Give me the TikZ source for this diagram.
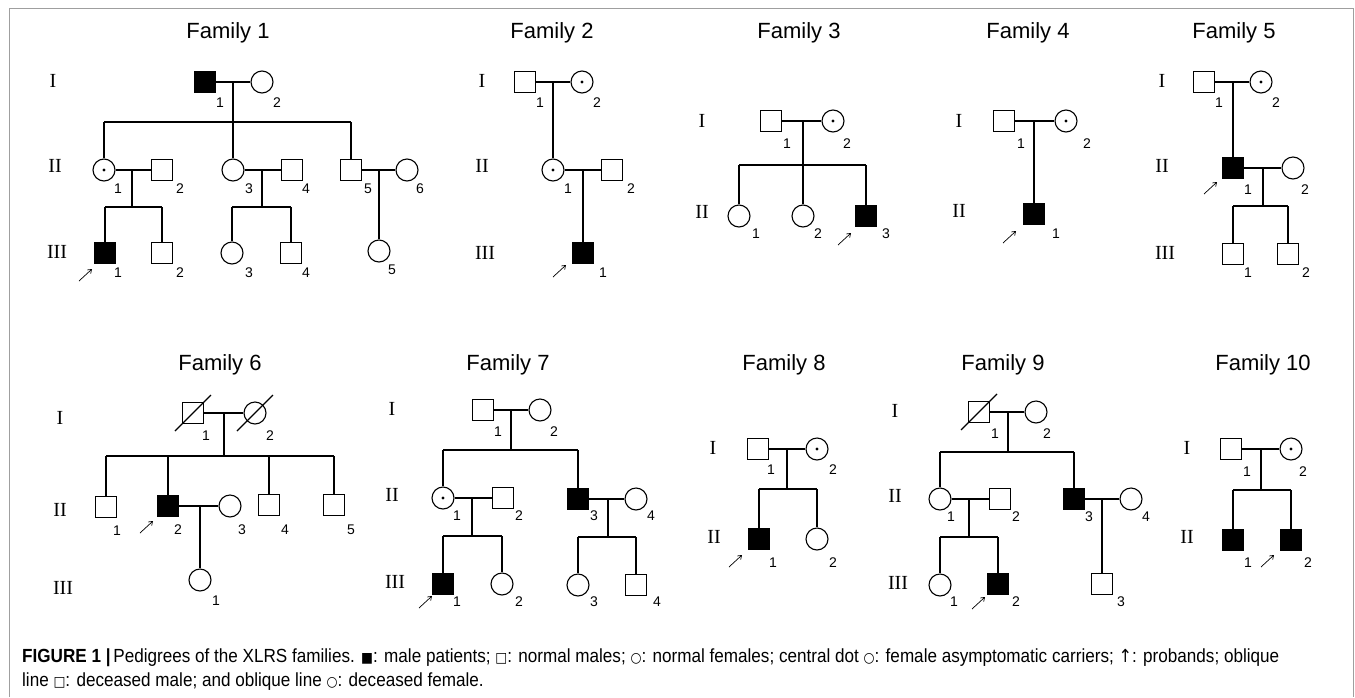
\documentclass[tikz,border=0pt]{standalone}
\usepackage{fontspec}
\usepackage{graphicx}
\setmainfont{Liberation Sans}
\newfontfamily\romfont{Liberation Serif}
\newfontfamily\symfont{DejaVu Sans}
\usetikzlibrary{arrows.meta,calc}
\newsavebox\capboxA
\newsavebox\capboxB
\newcommand\parrow[3]{\draw[prob] ($(#1.center)+(#2,#3)$) -- ++(13,-12);}
\newcommand\deadmark[1]{\draw[ln] ($(#1.center)+(-18,18)$) -- ++(36,-36);}
\newcommand\sy[1]{{\symfont\fontsize{14}{14}\selectfont #1}}
\newcommand\syarr[1]{{\symfont\fontsize{18}{18}\selectfont #1}}
\tikzset{
  ln/.style={line width=1.1pt},
  symb/.style={draw, line width=1.1pt, inner sep=0pt},
  sq/.style={symb, rectangle, minimum size=21pt},
  fsq/.style={sq, fill=black},
  ci/.style={symb, circle, minimum size=22pt},
  cd/.style={ci, path picture={\fill (path picture bounding box.center) circle (1.6pt);}},
  num/.style={inner sep=0pt, font=\fontsize{14}{14}\selectfont},
  gen/.style={inner sep=0pt, font=\romfont\fontsize{20}{20}\selectfont},
  ttl/.style={inner sep=0pt, font=\fontsize{22}{22}\selectfont},
  prob/.style={line width=0.7pt, -{Straight Barb[length=3.5pt,width=5pt]}},
}
\begin{document}
\sbox\capboxA{\fontsize{19}{19}\selectfont\textbf{FIGURE 1} \textbf{|}\,Pedigrees of the XLRS families. \sy{■}: male patients; \sy{□}: normal males; \sy{○}: normal females; central dot \sy{○}: female asymptomatic carriers; \syarr{↑}: probands; oblique}%
\sbox\capboxB{\fontsize{19}{19}\selectfont line \sy{□}: deceased male; and oblique line \sy{○}: deceased female.}%
\newdimen\capwd
\capwd=\wd\capboxA
\pgfmathsetmacro\capscale{1257/\the\capwd}%
\begin{tikzpicture}[x=1pt,y=-1pt]
\useasboundingbox (0,0) rectangle (1355,697);
\fill[white] (0,0) rectangle (1355,697);
\draw[gray!75, line width=1pt] (9,697) -- (9,8) -- (1353,8) -- (1353,697);

% ---------- Family 1 ----------
\node[ttl] (t1) at (228,33) {Family 1};
\node[gen] (g1a) at (53,81) {I};
\node[gen] (g1b) at (55,166) {II};
\node[gen] (g1c) at (57,252) {III};
\node[fsq] (f1a) at (205,82) {};
\node[ci] (f1b) at (262,82) {};
\node[num] (l1a) at (220,103) {1};
\node[num] (l1b) at (277,103) {2};
\coordinate (f1m) at (233,82);
\coordinate (f1s) at (233,122);
\coordinate (f1sL) at (104,122);
\coordinate (f1sR) at (351,122);
\draw[ln] (f1a) -- (f1b);
\draw[ln] (f1sL) -- (f1sR);
\node[cd] (f1c) at (104,170) {};
\node[sq] (f1d) at (162,170) {};
\node[ci] (f1e) at (233,170) {};
\node[sq] (f1f) at (292,170) {};
\node[sq] (f1g) at (351,170) {};
\node[ci] (f1h) at (407,170) {};
\draw[ln] (f1m) -- (f1e);
\draw[ln] (f1sL) -- (f1c);
\draw[ln] (f1sR) -- (f1g);
\node[num] (l1c) at (118,189) {1};
\node[num] (l1d) at (180,189) {2};
\node[num] (l1e) at (249,189) {3};
\node[num] (l1f) at (306,189) {4};
\node[num] (l1g) at (368,189) {5};
\node[num] (l1h) at (420,189) {6};
\draw[ln] (f1c) -- (f1d);
\draw[ln] (f1e) -- (f1f);
\draw[ln] (f1g) -- (f1h);
\coordinate (f1m2) at (132,170);
\coordinate (f1s2) at (132,207);
\coordinate (f1s2L) at (105,207);
\coordinate (f1s2R) at (162,207);
\coordinate (f1m3) at (262,170);
\coordinate (f1s3) at (262,207);
\coordinate (f1s3L) at (232,207);
\coordinate (f1s3R) at (291,207);
\coordinate (f1m4) at (379,170);
\draw[ln] (f1m2) -- (f1s2);
\draw[ln] (f1s2L) -- (f1s2R);
\draw[ln] (f1m3) -- (f1s3);
\draw[ln] (f1s3L) -- (f1s3R);
\node[fsq] (f1i) at (105,253) {};
\node[sq] (f1j) at (162,253) {};
\node[ci] (f1k) at (232,253) {};
\node[sq] (f1l) at (291,253) {};
\node[ci] (f1n) at (379,251) {};
\draw[ln] (f1s2L) -- (f1i);
\draw[ln] (f1s2R) -- (f1j);
\draw[ln] (f1s3L) -- (f1k);
\draw[ln] (f1s3R) -- (f1l);
\draw[ln] (f1m4) -- (f1n);
\node[num] (l1i) at (118,273) {1};
\node[num] (l1j) at (180,273) {2};
\node[num] (l1k) at (249,273) {3};
\node[num] (l1l) at (306,273) {4};
\node[num] (l1n) at (392,270) {5};
\parrow{f1i}{-26}{28}

% ---------- Family 2 ----------
\node[ttl] (t2) at (552,33) {Family 2};
\node[gen] (g2a) at (482,81) {I};
\node[gen] (g2b) at (482,166) {II};
\node[gen] (g2c) at (485,253) {III};
\node[sq] (f2a) at (525,82) {};
\node[cd] (f2b) at (582,82) {};
\node[num] (l2a) at (540,103) {1};
\node[num] (l2b) at (597,103) {2};
\draw[ln] (f2a) -- (f2b);
\coordinate (f2m) at (553,82);
\node[cd] (f2c) at (553,170) {};
\node[sq] (f2d) at (612,170) {};
\draw[ln] (f2m) -- (f2c);
\draw[ln] (f2c) -- (f2d);
\node[num] (l2c) at (568,189) {1};
\node[num] (l2d) at (631,189) {2};
\coordinate (f2m2) at (583,170);
\node[fsq] (f2e) at (583,253) {};
\draw[ln] (f2m2) -- (f2e);
\node[num] (l2e) at (603,273) {1};
\parrow{f2e}{-30}{24}

% ---------- Family 3 ----------
\node[ttl] (t3) at (799,33) {Family 3};
\node[gen] (g3a) at (702,121) {I};
\node[gen] (g3b) at (702,212) {II};
\node[sq] (f3a) at (771,121) {};
\node[cd] (f3b) at (833,121) {};
\node[num] (l3a) at (787,144) {1};
\node[num] (l3b) at (847,144) {2};
\draw[ln] (f3a) -- (f3b);
\coordinate (f3m) at (803,121);
\coordinate (f3sL) at (739,165);
\coordinate (f3sR) at (866,165);
\draw[ln] (f3sL) -- (f3sR);
\node[ci] (f3c) at (739,216) {};
\node[ci] (f3d) at (803,216) {};
\node[fsq] (f3e) at (866,216) {};
\draw[ln] (f3m) -- (f3d);
\draw[ln] (f3sL) -- (f3c);
\draw[ln] (f3sR) -- (f3e);
\node[num] (l3c) at (756,234) {1};
\node[num] (l3d) at (818,234) {2};
\node[num] (l3e) at (886,234) {3};
\parrow{f3e}{-28}{29}

% ---------- Family 4 ----------
\node[ttl] (t4) at (1028,33) {Family 4};
\node[gen] (g4a) at (959,121) {I};
\node[gen] (g4b) at (959,211) {II};
\node[sq] (f4a) at (1004,121) {};
\node[cd] (f4b) at (1066,121) {};
\node[num] (l4a) at (1021,144) {1};
\node[num] (l4b) at (1087,144) {2};
\draw[ln] (f4a) -- (f4b);
\coordinate (f4m) at (1034,121);
\node[fsq] (f4c) at (1034,214) {};
\draw[ln] (f4m) -- (f4c);
\node[num] (l4c) at (1056,234) {1};
\parrow{f4c}{-31}{29}

% ---------- Family 5 ----------
\node[ttl] (t5) at (1234,33) {Family 5};
\node[gen] (g5a) at (1162,81) {I};
\node[gen] (g5b) at (1162,166) {II};
\node[gen] (g5c) at (1165,253) {III};
\node[sq] (f5a) at (1204,82) {};
\node[cd] (f5b) at (1261,82) {};
\node[num] (l5a) at (1219,103) {1};
\node[num] (l5b) at (1276,103) {2};
\draw[ln] (f5a) -- (f5b);
\coordinate (f5m) at (1233,82);
\node[fsq] (f5c) at (1233,168) {};
\node[ci] (f5d) at (1293,168) {};
\draw[ln] (f5m) -- (f5c);
\draw[ln] (f5c) -- (f5d);
\node[num] (l5c) at (1248,190) {1};
\node[num] (l5d) at (1305,190) {2};
\coordinate (f5m2) at (1263,168);
\coordinate (f5s2) at (1263,206);
\coordinate (f5sL) at (1233,206);
\coordinate (f5sR) at (1288,206);
\draw[ln] (f5m2) -- (f5s2);
\draw[ln] (f5sL) -- (f5sR);
\node[sq] (f5e) at (1233,254) {};
\node[sq] (f5f) at (1288,254) {};
\draw[ln] (f5sL) -- (f5e);
\draw[ln] (f5sR) -- (f5f);
\node[num] (l5e) at (1248,273) {1};
\node[num] (l5f) at (1306,273) {2};
\parrow{f5c}{-29}{26}

% ---------- Family 6 ----------
\node[ttl] (t6) at (220,365) {Family 6};
\node[gen] (g6a) at (60,418) {I};
\node[gen] (g6b) at (60,510) {II};
\node[gen] (g6c) at (63,588) {III};
\node[sq] (f6a) at (193,413) {};
\node[ci] (f6b) at (255,413) {};
\deadmark{f6a}
\deadmark{f6b}
\node[num] (l6a) at (206,436) {1};
\node[num] (l6b) at (270,436) {2};
\draw[ln] (f6a) -- (f6b);
\coordinate (f6m) at (224,413);
\coordinate (f6s) at (224,456);
\coordinate (f6s1) at (106,456);
\coordinate (f6s2) at (168,456);
\coordinate (f6s4) at (269,456);
\coordinate (f6s5) at (334,456);
\draw[ln] (f6m) -- (f6s);
\draw[ln] (f6s1) -- (f6s5);
\node[sq] (f6c) at (106,507) {};
\node[fsq] (f6d) at (168,506) {};
\node[ci] (f6e) at (230,506) {};
\node[sq] (f6f) at (269,505) {};
\node[sq] (f6g) at (334,505) {};
\draw[ln] (f6s1) -- (f6c);
\draw[ln] (f6s2) -- (f6d);
\draw[ln] (f6s4) -- (f6f);
\draw[ln] (f6s5) -- (f6g);
\draw[ln] (f6d) -- (f6e);
\node[num] (l6c) at (117,531) {1};
\node[num] (l6d) at (178,530) {2};
\node[num] (l6e) at (242,530) {3};
\node[num] (l6f) at (285,530) {4};
\node[num] (l6g) at (351,530) {5};
\coordinate (f6m2) at (200,506);
\node[ci] (f6h) at (200,580) {};
\draw[ln] (f6m2) -- (f6h);
\node[num] (l6h) at (216,601) {1};
\parrow{f6d}{-28}{27}

% ---------- Family 7 ----------
\node[ttl] (t7) at (508,365) {Family 7};
\node[gen] (g7a) at (392,409) {I};
\node[gen] (g7b) at (392,495) {II};
\node[gen] (g7c) at (395,582) {III};
\node[sq] (f7a) at (483,410) {};
\node[ci] (f7b) at (540,410) {};
\node[num] (l7a) at (498,432) {1};
\node[num] (l7b) at (554,432) {2};
\draw[ln] (f7a) -- (f7b);
\coordinate (f7m) at (511,410);
\coordinate (f7s) at (511,450);
\coordinate (f7sL) at (443,450);
\coordinate (f7sR) at (578,450);
\draw[ln] (f7m) -- (f7s);
\draw[ln] (f7sL) -- (f7sR);
\node[cd] (f7c) at (443,498) {};
\node[sq] (f7d) at (503,498) {};
\node[fsq] (f7e) at (578,499) {};
\node[ci] (f7f) at (636,499) {};
\draw[ln] (f7sL) -- (f7c);
\draw[ln] (f7sR) -- (f7e);
\draw[ln] (f7c) -- (f7d);
\draw[ln] (f7e) -- (f7f);
\node[num] (l7c) at (457,516) {1};
\node[num] (l7d) at (519,516) {2};
\node[num] (l7e) at (594,516) {3};
\node[num] (l7f) at (651,516) {4};
\coordinate (f7m2) at (472,498);
\coordinate (f7s2) at (472,536);
\coordinate (f7s2L) at (443,536);
\coordinate (f7s2R) at (502,536);
\coordinate (f7m3) at (608,499);
\coordinate (f7s3) at (608,537);
\coordinate (f7s3L) at (578,537);
\coordinate (f7s3R) at (636,537);
\draw[ln] (f7m2) -- (f7s2);
\draw[ln] (f7s2L) -- (f7s2R);
\draw[ln] (f7m3) -- (f7s3);
\draw[ln] (f7s3L) -- (f7s3R);
\node[fsq] (f7g) at (443,584) {};
\node[ci] (f7h) at (502,584) {};
\node[ci] (f7i) at (578,585) {};
\node[sq] (f7j) at (636,585) {};
\draw[ln] (f7s2L) -- (f7g);
\draw[ln] (f7s2R) -- (f7h);
\draw[ln] (f7s3L) -- (f7i);
\draw[ln] (f7s3R) -- (f7j);
\node[num] (l7g) at (457,602) {1};
\node[num] (l7h) at (519,602) {2};
\node[num] (l7i) at (594,602) {3};
\node[num] (l7j) at (657,602) {4};
\parrow{f7g}{-24}{24}

% ---------- Family 8 ----------
\node[ttl] (t8) at (784,365) {Family 8};
\node[gen] (g8a) at (713,448) {I};
\node[gen] (g8b) at (714,537) {II};
\node[sq] (f8a) at (758,449) {};
\node[cd] (f8b) at (817,449) {};
\node[num] (l8a) at (771,470) {1};
\node[num] (l8b) at (833,470) {2};
\draw[ln] (f8a) -- (f8b);
\coordinate (f8m) at (787,449);
\coordinate (f8s) at (787,489);
\coordinate (f8sL) at (759,489);
\coordinate (f8sR) at (817,489);
\draw[ln] (f8m) -- (f8s);
\draw[ln] (f8sL) -- (f8sR);
\node[fsq] (f8c) at (759,539) {};
\node[ci] (f8d) at (817,539) {};
\draw[ln] (f8sL) -- (f8c);
\draw[ln] (f8sR) -- (f8d);
\node[num] (l8c) at (773,563) {1};
\node[num] (l8d) at (833,563) {2};
\parrow{f8c}{-30}{28}

% ---------- Family 9 ----------
\node[ttl] (t9) at (1003,365) {Family 9};
\node[gen] (g9a) at (895,411) {I};
\node[gen] (g9b) at (895,496) {II};
\node[gen] (g9c) at (898,583) {III};
\node[sq] (f9a) at (979,412) {};
\node[ci] (f9b) at (1036,412) {};
\deadmark{f9a}
\node[num] (l9a) at (995,434) {1};
\node[num] (l9b) at (1047,434) {2};
\draw[ln] (f9a) -- (f9b);
\coordinate (f9m) at (1008,412);
\coordinate (f9s) at (1008,452);
\coordinate (f9sL) at (940,452);
\coordinate (f9sR) at (1074,452);
\draw[ln] (f9m) -- (f9s);
\draw[ln] (f9sL) -- (f9sR);
\node[ci] (f9c) at (940,499) {};
\node[sq] (f9d) at (1000,499) {};
\node[fsq] (f9e) at (1074,499) {};
\node[ci] (f9f) at (1131,499) {};
\draw[ln] (f9sL) -- (f9c);
\draw[ln] (f9sR) -- (f9e);
\draw[ln] (f9c) -- (f9d);
\draw[ln] (f9e) -- (f9f);
\node[num] (l9c) at (951,517) {1};
\node[num] (l9d) at (1016,517) {2};
\node[num] (l9e) at (1089,517) {3};
\node[num] (l9f) at (1146,517) {4};
\coordinate (f9m2) at (969,499);
\coordinate (f9s2) at (969,537);
\coordinate (f9s2L) at (940,537);
\coordinate (f9s2R) at (998,537);
\coordinate (f9m3) at (1102,499);
\draw[ln] (f9m2) -- (f9s2);
\draw[ln] (f9s2L) -- (f9s2R);
\node[ci] (f9g) at (940,585) {};
\node[fsq] (f9h) at (998,584) {};
\node[sq] (f9i) at (1102,584) {};
\draw[ln] (f9s2L) -- (f9g);
\draw[ln] (f9s2R) -- (f9h);
\draw[ln] (f9m3) -- (f9i);
\node[num] (l9g) at (954,602) {1};
\node[num] (l9h) at (1016,602) {2};
\node[num] (l9i) at (1121,602) {3};
\parrow{f9h}{-26}{25}

% ---------- Family 10 ----------
\node[ttl] (t10) at (1263,365) {Family 10};
\node[gen] (g10a) at (1187,448) {I};
\node[gen] (g10b) at (1187,537) {II};
\node[sq] (f10a) at (1231,449) {};
\node[cd] (f10b) at (1291,449) {};
\node[num] (l10a) at (1247,472) {1};
\node[num] (l10b) at (1303,472) {2};
\draw[ln] (f10a) -- (f10b);
\coordinate (f10m) at (1261,449);
\coordinate (f10s) at (1261,490);
\coordinate (f10sL) at (1233,490);
\coordinate (f10sR) at (1291,490);
\draw[ln] (f10m) -- (f10s);
\draw[ln] (f10sL) -- (f10sR);
\node[fsq] (f10c) at (1233,540) {};
\node[fsq] (f10d) at (1291,540) {};
\draw[ln] (f10sL) -- (f10c);
\draw[ln] (f10sR) -- (f10d);
\node[num] (l10c) at (1248,563) {1};
\node[num] (l10d) at (1308,563) {2};
\parrow{f10d}{-30}{27}

% ---------- Caption ----------
\node[anchor=base west, inner sep=0pt] (cap1) at (22,662) {\scalebox{\capscale}[1]{\usebox\capboxA}};
\node[anchor=base west, inner sep=0pt] (cap2) at (22,686) {\scalebox{\capscale}[1]{\usebox\capboxB}};
\end{tikzpicture}
\end{document}
